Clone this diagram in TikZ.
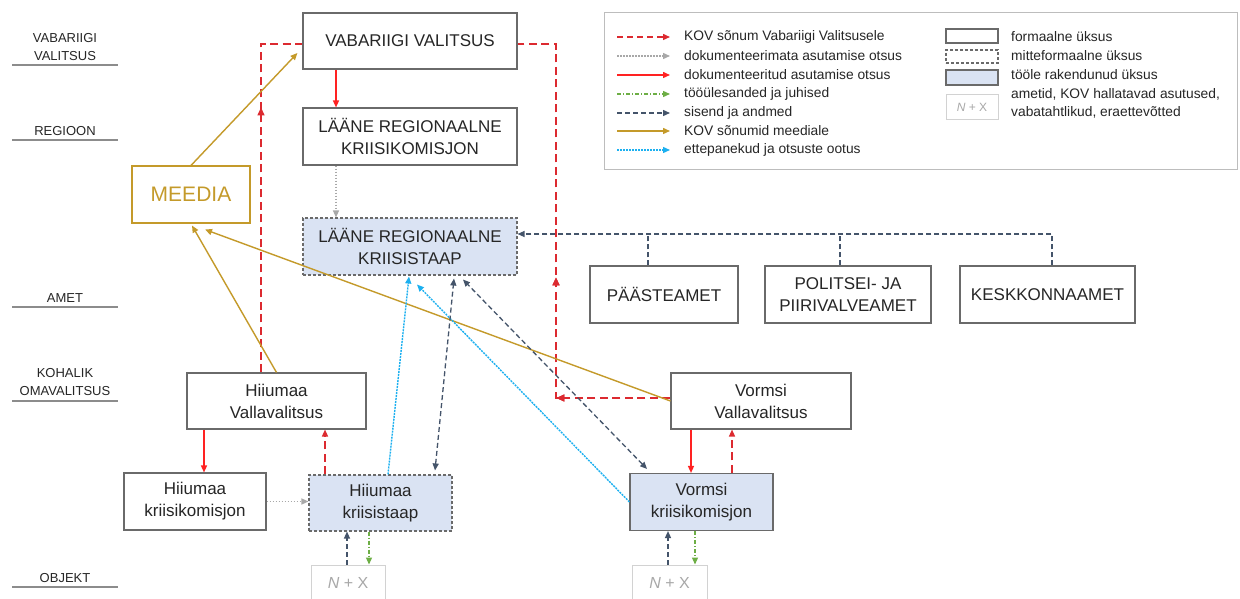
\documentclass[tikz,border=0pt]{standalone}
\usepackage{fontspec}
\setmainfont{Liberation Sans}
\usetikzlibrary{arrows.meta,decorations.markings}
\definecolor{cRed}{HTML}{DC2A30}
\definecolor{cRedS}{HTML}{FF2222}
\definecolor{cGray}{HTML}{A8A8A8}
\definecolor{cGreen}{HTML}{6DAE45}
\definecolor{cSlate}{HTML}{44546A}
\definecolor{cGold}{HTML}{C49A2A}
\definecolor{cCyan}{HTML}{1CB0F0}
\definecolor{cFill}{HTML}{DAE3F3}
\definecolor{cBox}{HTML}{6A6A6A}
\definecolor{cLight}{HTML}{D2D2D2}
\definecolor{cLine}{HTML}{8C8C8C}
\definecolor{cText}{HTML}{262626}
\tikzset{
  >={Triangle[length=7pt,width=6pt]},
  box/.style={draw=cBox, line width=1.1pt, fill=white, align=center, inner sep=0pt,
    text=cText, font=\fontsize{17}{22}\selectfont},
  active/.style={box, fill=cFill},
  informal/.style={dash pattern=on 3pt off 2pt},
  nxbox/.style={draw=cLight, line width=1pt, fill=white, inner sep=0pt, text=cGray,
    font=\fontsize{16}{20}\selectfont},
  lvl/.style={align=center, text=cText, font=\fontsize{13}{18}\selectfont},
  lvlline/.style={draw=cLine, line width=1.1pt},
  reddash/.style={draw=cRed, line width=1.4pt, dash pattern=on 8pt off 4.5pt},
  redsolid/.style={draw=cRedS, line width=1.4pt, ->},
  graydot/.style={draw=cGray, line width=1.3pt, dash pattern=on 1.5pt off 1.5pt, ->},
  darkdash/.style={draw=cSlate, line width=1.3pt, dash pattern=on 5pt off 3pt},
  golden/.style={draw=cGold, line width=1.4pt, ->},
  cyandot/.style={draw=cCyan, line width=1.4pt, dash pattern=on 2pt off 1pt, ->},
  greendd/.style={draw=cGreen, line width=1.3pt, dash pattern=on 4pt off 2pt on 1pt off 2pt, ->},
  midarrow/.style={postaction={decorate}, decoration={markings,
    mark=at position #1 with {\arrow{Triangle[length=8pt,width=7pt]}}}},
  legtext/.style={anchor=west, inner sep=0pt, text=cText, font=\fontsize{13.8}{18}\selectfont},
}
\begin{document}
\begin{tikzpicture}[x=1pt,y=-1pt]
\useasboundingbox (0,0) rectangle (1240,599);
\fill[white] (0,0) rectangle (1240,599);
\clip (0,0) rectangle (1240,599);

% level labels
\node[lvl] (lv1) at (65,47) {VABARIIGI\\VALITSUS};
\node[lvl] (lv2) at (65,131) {REGIOON};
\node[lvl] (lv3) at (65,298) {AMET};
\node[lvl] (lv4) at (65,382.5) {KOHALIK\\OMAVALITSUS};
\node[lvl] (lv5) at (65,578) {OBJEKT};
\coordinate (u1a) at (12,65);  \coordinate (u1b) at (118,65);
\coordinate (u2a) at (12,140); \coordinate (u2b) at (118,140);
\coordinate (u3a) at (12,307); \coordinate (u3b) at (118,307);
\coordinate (u4a) at (12,401); \coordinate (u4b) at (118,401);
\coordinate (u5a) at (12,587); \coordinate (u5b) at (118,587);
\foreach \i in {1,...,5} \draw[lvlline] (u\i a) -- (u\i b);

% main nodes
\node[box, minimum width=214, minimum height=56] (VV) at (410,41) {VABARIIGI VALITSUS};
\node[box, minimum width=214, minimum height=57] (LRK) at (410,136.5) {LÄÄNE REGIONAALNE\\KRIISIKOMISJON};
\node[active, informal, minimum width=214, minimum height=57] (LRS) at (410,246.5) {LÄÄNE REGIONAALNE\\KRIISISTAAP};
\node[box, draw=cGold, text=cGold, font=\fontsize{21}{25}\selectfont, minimum width=118, minimum height=57] (ME) at (191,194.5) {MEEDIA};
\node[box, minimum width=148, minimum height=57] (PA) at (664,294.5) {PÄÄSTEAMET};
\node[box, minimum width=166, minimum height=57] (PO) at (848,294.5) {POLITSEI- JA\\PIIRIVALVEAMET};
\node[box, minimum width=175, minimum height=57] (KE) at (1047.5,294.5) {KESKKONNAAMET};
\node[box, minimum width=179, minimum height=56] (HVV) at (276.5,401) {Hiiumaa\\Vallavalitsus};
\node[box, minimum width=180, minimum height=56] (VVV) at (761,401) {Vormsi\\Vallavalitsus};
\node[box, minimum width=142, minimum height=57] (HKK) at (195,501.5) {Hiiumaa\\kriisikomisjon};
\node[active, informal, minimum width=143, minimum height=56] (HKS) at (380.5,503) {Hiiumaa\\kriisistaap};
\node[active, minimum width=143, minimum height=57] (VKK) at (701.5,502) {Vormsi\\kriisikomisjon};
\node[nxbox, minimum width=74, minimum height=36] (HNX) at (348,583) {\textit{N} + X};
\node[nxbox, minimum width=75, minimum height=36] (VNX) at (669.5,583) {\textit{N} + X};

% region connectors
\draw[redsolid] ([xshift=-74pt]VV.south) -- ([xshift=-74pt]LRK.north);
\draw[graydot] ([xshift=-74pt]LRK.south) -- ([xshift=-74pt]LRS.north);

% amet bus
\coordinate (bus) at ([yshift=12.5pt]LRS.east);
\coordinate (paT) at ([xshift=-16pt]PA.north);
\coordinate (poT) at ([xshift=-8pt]PO.north);
\draw[darkdash, ->] ([xshift=4.5pt]KE.north) |- (bus);
\draw[darkdash] (paT) -- (paT |- bus);
\draw[darkdash] (poT) -- (poT |- bus);

% red dashed KOV messages to government
\draw[reddash, midarrow=265pt] ([xshift=-15.5pt]HVV.north) |- ([yshift=-3pt]VV.west);
\coordinate (rc1) at (556,398);
\coordinate (rc2) at (556,44);
\draw[reddash, midarrow=114pt, midarrow=235pt] ([yshift=3pt]VVV.west) -- (rc1) -- (rc2) -- ([yshift=-3pt]VV.east);

% media
\draw[golden] (HVV.north) -- ([xshift=1pt,yshift=-2pt]ME.south);
\draw[golden] (ME.north) -- ([xshift=-5pt,yshift=-12pt]VV.west);
\draw[golden] (VVV.west) -- ([xshift=14pt,yshift=-6pt]ME.south);

% cyan
\draw[cyandot] ([xshift=7.5pt]HKS.north) -- ([xshift=-1pt,yshift=-1pt]LRS.south);
\draw[cyandot] (VKK.west) -- ([xshift=7pt,yshift=-9pt]LRS.south);

% dark double
\draw[darkdash, <->] ([xshift=54.5pt,yshift=4pt]HKS.north) -- ([xshift=44pt,yshift=-3pt]LRS.south);
\draw[darkdash, <->] ([xshift=-54.5pt,yshift=4pt]VKK.north) -- ([xshift=53pt,yshift=-4pt]LRS.south);

% local
\draw[redsolid] ([xshift=-72.5pt]HVV.south) -- ([xshift=9pt]HKK.north);
\draw[reddash, ->] ([xshift=-55.5pt]HKS.north) -- ([xshift=48.5pt]HVV.south);
\draw[redsolid] ([xshift=-70pt]VVV.south) -- ([xshift=-10.5pt]VKK.north);
\draw[reddash, ->] ([xshift=30.5pt]VKK.north) -- ([xshift=-29pt]VVV.south);
\draw[graydot] (HKK.east) -- (HKK.east -| HKS.west);

% objects
\draw[darkdash, ->] ([xshift=-1pt]HNX.north) -- ([xshift=-33.5pt]HKS.south);
\draw[greendd] ([xshift=-11.5pt]HKS.south) -- ([xshift=21pt]HNX.north);
\draw[darkdash, ->] ([xshift=-1.5pt]VNX.north) -- ([xshift=-33.5pt]VKK.south);
\draw[greendd] ([xshift=-6.5pt]VKK.south) -- ([xshift=25.5pt]VNX.north);

% legend
\node[draw=cLight!90!black, line width=1pt, minimum width=633, minimum height=157, inner sep=0pt] (leg) at (920.5,91.5) {};
\foreach \i/\y in {1/37,2/56,3/75,4/94,5/113,6/131,7/150} {
  \coordinate (la\i) at (617,\y);
  \coordinate (lb\i) at (670,\y);
}
\draw[reddash, dash pattern=on 6pt off 4pt, ->] (la1) -- (lb1);
\draw[graydot] (la2) -- (lb2);
\draw[redsolid] (la3) -- (lb3);
\draw[greendd] (la4) -- (lb4);
\draw[darkdash, ->] (la5) -- (lb5);
\draw[golden] (la6) -- (lb6);
\draw[cyandot] (la7) -- (lb7);
\node[legtext] (t1) at (684,37) {KOV sõnum Vabariigi Valitsusele};
\node[legtext] (t2) at (684,56) {dokumenteerimata asutamise otsus};
\node[legtext] (t3) at (684,75) {dokumenteeritud asutamise otsus};
\node[legtext] (t4) at (684,94) {tööülesanded ja juhised};
\node[legtext] (t5) at (684,113) {sisend ja andmed};
\node[legtext] (t6) at (684,131) {KOV sõnumid meediale};
\node[legtext] (t7) at (684,150) {ettepanekud ja otsuste ootus};

\node[box, minimum width=52, minimum height=14] (s1) at (972,36) {};
\node[box, informal, minimum width=52, minimum height=13] (s2) at (972,56.5) {};
\node[active, minimum width=52, minimum height=15] (s3) at (972,77.5) {};
\node[nxbox, minimum width=52, minimum height=25, font=\fontsize{12}{14}\selectfont] (s4) at (972,107.5) {\textit{N} + X};
\node[legtext] (r1) at (1011,37) {formaalne üksus};
\node[legtext] (r2) at (1011,56) {mitteformaalne üksus};
\node[legtext] (r3) at (1011,75) {tööle rakendunud üksus};
\node[legtext] (r4) at (1011,94) {ametid, KOV hallatavad asutused,};
\node[legtext] (r5) at (1011,112) {vabatahtlikud, eraettevõtted};
\end{tikzpicture}
\end{document}
